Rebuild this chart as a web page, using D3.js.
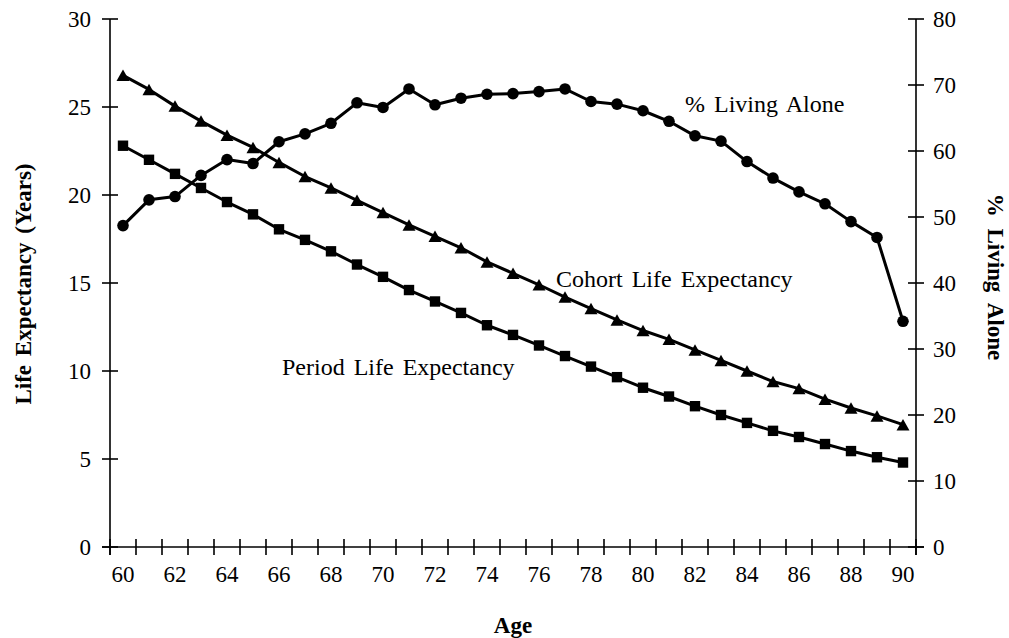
<!DOCTYPE html>
<html><head><meta charset="utf-8">
<script src="https://cdn.jsdelivr.net/npm/d3@7"></script>
<style>
html,body{margin:0;padding:0;background:#fff;}
text{font-family:"Liberation Serif","Times New Roman",serif;fill:#000;}
</style></head>
<body>
<svg id="chart" width="1009" height="638"></svg>
<script>
const ages = [60,61,62,63,64,65,66,67,68,69,70,71,72,73,74,75,76,77,78,79,80,81,82,83,84,85,86,87,88,89,90];
const ageLabels = [60,62,64,66,68,70,72,74,76,78,80,82,84,86,88,90];
const cohortLE = [26.8,26.0,25.05,24.2,23.4,22.7,21.85,21.05,20.4,19.7,19.0,18.3,17.65,17.0,16.2,15.55,14.9,14.2,13.55,12.9,12.3,11.8,11.2,10.6,10.0,9.4,9.0,8.4,7.9,7.45,6.95];
const periodLE = [22.8,22.0,21.2,20.4,19.6,18.9,18.05,17.45,16.8,16.05,15.35,14.6,13.95,13.3,12.6,12.05,11.45,10.85,10.25,9.65,9.05,8.55,8.0,7.5,7.05,6.6,6.25,5.85,5.45,5.1,4.8];
const livingAlone = [48.7,52.6,53.1,56.3,58.7,58.1,61.4,62.6,64.2,67.3,66.6,69.4,67.0,68.0,68.6,68.7,69.0,69.4,67.5,67.1,66.1,64.5,62.3,61.5,58.4,55.9,53.8,52.0,49.3,46.9,34.2];
const leftTicks = [0,5,10,15,20,25,30];
const rightTicks = [0,10,20,30,40,50,60,70,80];

const svg = d3.select("#chart");
const L = 110, R = 916, T = 19, B = 547;

const x = d3.scaleBand().domain(ages).range([L, R]).padding(0);
const yL = d3.scaleLinear().domain([0, 30]).range([B, T]);
const yR = d3.scaleLinear().domain([0, 80]).range([B, T]);
const cx = a => x(a) + x.bandwidth() / 2;

const axisStroke = 1.6;
const tickFont = "23px";

// X axis
const gx = svg.append("g");
gx.append("line").attr("x1", L - 8).attr("x2", R + 8).attr("y1", B).attr("y2", B)
  .attr("stroke", "#000").attr("stroke-width", axisStroke);
const bounds = ages.map(a => x(a)).concat([R]);
gx.selectAll("line.xt").data(bounds).join("line")
  .attr("x1", d => d).attr("x2", d => d).attr("y1", B - 8).attr("y2", B + 8)
  .attr("stroke", "#000").attr("stroke-width", axisStroke);
gx.selectAll("text.xl").data(ageLabels).join("text")
  .attr("x", d => cx(d)).attr("y", 582).attr("text-anchor", "middle")
  .style("font-size", tickFont).text(d => d);

// Left axis
const gl = svg.append("g");
gl.append("line").attr("x1", L).attr("x2", L).attr("y1", T).attr("y2", B + 8)
  .attr("stroke", "#000").attr("stroke-width", axisStroke);
gl.selectAll("line").filter(function(){return false;});
gl.selectAll("line.lt").data(leftTicks).join("line")
  .attr("x1", L - 8).attr("x2", L + 8).attr("y1", d => yL(d)).attr("y2", d => yL(d))
  .attr("stroke", "#000").attr("stroke-width", axisStroke);
gl.selectAll("text.ll").data(leftTicks).join("text")
  .attr("x", 91).attr("y", d => yL(d)).attr("dy", "0.35em").attr("text-anchor", "end")
  .style("font-size", tickFont).text(d => d);

// Right axis
const gr = svg.append("g");
gr.append("line").attr("x1", R).attr("x2", R).attr("y1", T).attr("y2", B + 8)
  .attr("stroke", "#000").attr("stroke-width", axisStroke);
gr.selectAll("line.rt").data(rightTicks).join("line")
  .attr("x1", R - 8).attr("x2", R + 8).attr("y1", d => yR(d)).attr("y2", d => yR(d))
  .attr("stroke", "#000").attr("stroke-width", axisStroke);
gr.selectAll("text.rl").data(rightTicks).join("text")
  .attr("x", 933).attr("y", d => yR(d)).attr("dy", "0.35em").attr("text-anchor", "start")
  .style("font-size", tickFont).text(d => d);

// Axis titles
svg.append("text").attr("transform", "translate(31,284) rotate(-90)")
  .attr("text-anchor", "middle").style("font-size", "23px").style("font-weight", "bold")
  .style("word-spacing", "3px").text("Life Expectancy (Years)");
svg.append("text").attr("transform", "translate(988,277) rotate(90)")
  .attr("text-anchor", "middle").style("font-size", "23px").style("font-weight", "bold")
  .style("word-spacing", "6px").text("% Living Alone");
svg.append("text").attr("x", (L + R) / 2).attr("y", 633)
  .attr("text-anchor", "middle").style("font-size", "23px").style("font-weight", "bold")
  .text("Age");

// Series
function drawSeries(vals, yScale, marker) {
  const pts = ages.map((a, i) => [cx(a), yScale(vals[i])]);
  svg.append("path").attr("d", d3.line()(pts)).attr("fill", "none")
    .attr("stroke", "#000").attr("stroke-width", 3).attr("stroke-linejoin", "round");
  const g = svg.append("g");
  pts.forEach(p => {
    if (marker === "circle") {
      g.append("circle").attr("cx", p[0]).attr("cy", p[1]).attr("r", 5.8).attr("fill", "#000");
    } else if (marker === "square") {
      g.append("rect").attr("x", p[0] - 5.2).attr("y", p[1] - 5.2).attr("width", 10.4).attr("height", 10.4).attr("fill", "#000");
    } else {
      const w = 13, h = 11.5;
      g.append("path").attr("d", `M${p[0]},${p[1] - h / 2}L${p[0] + w / 2},${p[1] + h / 2}L${p[0] - w / 2},${p[1] + h / 2}Z`).attr("fill", "#000");
    }
  });
}
drawSeries(livingAlone, yR, "circle");
drawSeries(cohortLE, yL, "triangle");
drawSeries(periodLE, yL, "square");

// Annotations
const ann = [
  {t: "% Living Alone", x: 685, y: 112},
  {t: "Cohort Life Expectancy", x: 556, y: 287},
  {t: "Period Life Expectancy", x: 282, y: 375}
];
svg.selectAll("text.ann").data(ann).join("text")
  .attr("x", d => d.x).attr("y", d => d.y).style("font-size", "24px")
  .style("word-spacing", "3px").text(d => d.t);
</script>
</body></html>
